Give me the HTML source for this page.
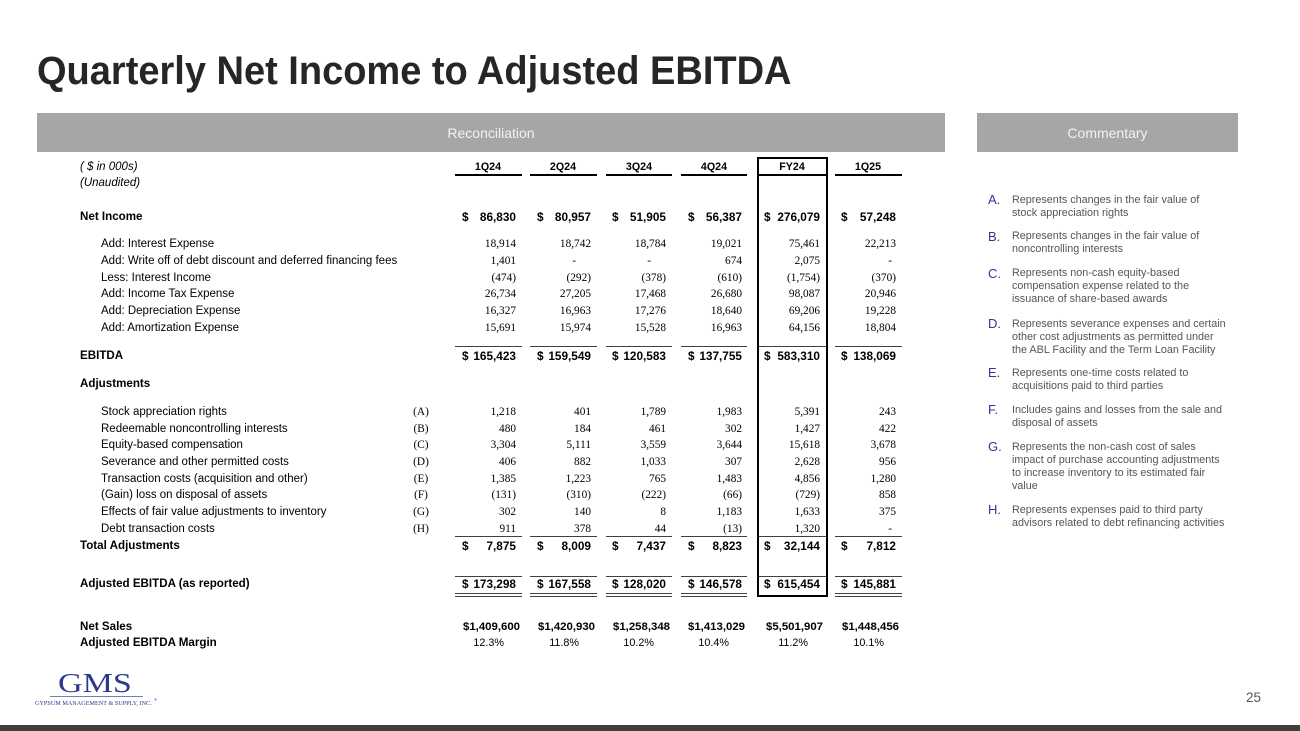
<!DOCTYPE html>
<html><head><meta charset="utf-8"><style>
*{margin:0;padding:0;box-sizing:border-box}
body{width:1300px;height:731px;background:#fff;position:relative;overflow:hidden;font-family:"Liberation Sans",sans-serif}
.a{position:absolute;white-space:nowrap;line-height:14px}
.s{font-size:11.5px;color:#000}
.b{font-size:11.6px;font-weight:bold;color:#000}
.i{font-style:italic}
.n{font-family:"Liberation Serif",serif;font-size:11.3px;text-align:right;width:80px;color:#000}
.bn{font-size:11.8px;font-weight:bold;text-align:right;width:80px;color:#000}
.d{font-size:11.8px;font-weight:bold;color:#000}
.h{font-size:10.7px;font-weight:bold;text-align:center;width:70px}
.lt{font-family:"Liberation Serif",serif;font-size:11.3px;width:30px;text-align:center}
.ln{position:absolute;background:#404040;height:1px}
.c1{left:436px}.c2{left:511px}.c3{left:586px}.c4{left:662px}.c5{left:740px}.c6{left:816px}
.d1{left:462px}.d2{left:537px}.d3{left:612px}.d4{left:688px}.d5{left:764px}.d6{left:841px}
.cm{position:absolute;font-size:10.8px;line-height:13px;color:#555;left:1012px;white-space:nowrap}
.cl{position:absolute;font-size:13px;line-height:13px;color:#2f3699;left:988px}
</style></head><body>

<div class="a" style="left:37px;top:51px;font-size:40px;line-height:40px;font-weight:bold;color:#262626;transform:scaleX(0.95);transform-origin:0 0">Quarterly Net Income to Adjusted EBITDA</div>

<div style="position:absolute;left:37px;top:113px;width:908px;height:39px;background:#a6a6a6"></div>
<div class="a" style="left:37px;width:908px;top:126px;text-align:center;font-size:14px;color:#f2f2f2">Reconciliation</div>
<div style="position:absolute;left:977px;top:113px;width:261px;height:39px;background:#a6a6a6"></div>
<div class="a" style="left:977px;width:261px;top:126px;text-align:center;font-size:14px;color:#f2f2f2">Commentary</div>

<!-- FY24 box -->
<div style="position:absolute;left:757px;top:157px;width:71px;height:440px;border:2px solid #000"></div>

<!-- header -->
<div class="a s i" style="left:80px;top:160px">( $ in 000s)</div>
<div class="a s i" style="left:80px;top:176px">(Unaudited)</div>
<div class="a h" style="left:453px;top:160px">1Q24</div>
<div class="a h" style="left:528px;top:160px">2Q24</div>
<div class="a h" style="left:604px;top:160px">3Q24</div>
<div class="a h" style="left:679px;top:160px">4Q24</div>
<div class="a h" style="left:757px;top:160px">FY24</div>
<div class="a h" style="left:833px;top:160px">1Q25</div>
<div class="ln" style="left:455px;width:67px;top:174px;height:2px;background:#000"></div>
<div class="ln" style="left:530px;width:67px;top:174px;height:2px;background:#000"></div>
<div class="ln" style="left:606px;width:66px;top:174px;height:2px;background:#000"></div>
<div class="ln" style="left:681px;width:66px;top:174px;height:2px;background:#000"></div>
<div class="ln" style="left:757px;width:71px;top:174px;height:2px;background:#000"></div>
<div class="ln" style="left:835px;width:67px;top:174px;height:2px;background:#000"></div>

<!-- Net income -->
<div class="a b" style="left:80px;top:210px">Net Income</div>
<div class="a d d1" style="top:210px">$</div><div class="a bn c1" style="top:210px">86,830</div>
<div class="a d d2" style="top:210px">$</div><div class="a bn c2" style="top:210px">80,957</div>
<div class="a d d3" style="top:210px">$</div><div class="a bn c3" style="top:210px">51,905</div>
<div class="a d d4" style="top:210px">$</div><div class="a bn c4" style="top:210px">56,387</div>
<div class="a d d5" style="top:210px">$</div><div class="a bn c5" style="top:210px">276,079</div>
<div class="a d d6" style="top:210px">$</div><div class="a bn c6" style="top:210px">57,248</div>

<div class="a s" style="left:101px;top:237px">Add: Interest Expense</div>
<div class="a n c1" style="top:237px">18,914</div><div class="a n c2" style="top:237px">18,742</div><div class="a n c3" style="top:237px">18,784</div><div class="a n c4" style="top:237px">19,021</div><div class="a n c5" style="top:237px">75,461</div><div class="a n c6" style="top:237px">22,213</div>

<div class="a s" style="left:101px;top:254px">Add: Write off of debt discount and deferred financing fees</div>
<div class="a n c1" style="top:254px">1,401</div><div class="a n" style="left:496px;top:254px">-</div><div class="a n" style="left:571px;top:254px">-</div><div class="a n c4" style="top:254px">674</div><div class="a n c5" style="top:254px">2,075</div><div class="a n" style="left:812px;top:254px">-</div>

<div class="a s" style="left:101px;top:271px">Less: Interest Income</div>
<div class="a n c1" style="top:271px">(474)</div><div class="a n c2" style="top:271px">(292)</div><div class="a n c3" style="top:271px">(378)</div><div class="a n c4" style="top:271px">(610)</div><div class="a n c5" style="top:271px">(1,754)</div><div class="a n c6" style="top:271px">(370)</div>

<div class="a s" style="left:101px;top:287px">Add: Income Tax Expense</div>
<div class="a n c1" style="top:287px">26,734</div><div class="a n c2" style="top:287px">27,205</div><div class="a n c3" style="top:287px">17,468</div><div class="a n c4" style="top:287px">26,680</div><div class="a n c5" style="top:287px">98,087</div><div class="a n c6" style="top:287px">20,946</div>

<div class="a s" style="left:101px;top:304px">Add: Depreciation Expense</div>
<div class="a n c1" style="top:304px">16,327</div><div class="a n c2" style="top:304px">16,963</div><div class="a n c3" style="top:304px">17,276</div><div class="a n c4" style="top:304px">18,640</div><div class="a n c5" style="top:304px">69,206</div><div class="a n c6" style="top:304px">19,228</div>

<div class="a s" style="left:101px;top:321px">Add: Amortization Expense</div>
<div class="a n c1" style="top:321px">15,691</div><div class="a n c2" style="top:321px">15,974</div><div class="a n c3" style="top:321px">15,528</div><div class="a n c4" style="top:321px">16,963</div><div class="a n c5" style="top:321px">64,156</div><div class="a n c6" style="top:321px">18,804</div>

<!-- EBITDA -->
<div class="ln" style="left:455px;width:67px;top:346px"></div>
<div class="ln" style="left:530px;width:67px;top:346px"></div>
<div class="ln" style="left:606px;width:66px;top:346px"></div>
<div class="ln" style="left:681px;width:66px;top:346px"></div>
<div class="ln" style="left:759px;width:67px;top:346px"></div>
<div class="ln" style="left:835px;width:67px;top:346px"></div>
<div class="a b" style="left:80px;top:349px">EBITDA</div>
<div class="a d d1" style="top:349px">$</div><div class="a bn c1" style="top:349px">165,423</div>
<div class="a d d2" style="top:349px">$</div><div class="a bn c2" style="top:349px">159,549</div>
<div class="a d d3" style="top:349px">$</div><div class="a bn c3" style="top:349px">120,583</div>
<div class="a d d4" style="top:349px">$</div><div class="a bn c4" style="top:349px">137,755</div>
<div class="a d d5" style="top:349px">$</div><div class="a bn c5" style="top:349px">583,310</div>
<div class="a d d6" style="top:349px">$</div><div class="a bn c6" style="top:349px">138,069</div>

<div class="a b" style="left:80px;top:377px">Adjustments</div>

<div class="a s" style="left:101px;top:405px">Stock appreciation rights</div><div class="a lt" style="left:406px;top:405px">(A)</div>
<div class="a n c1" style="top:405px">1,218</div><div class="a n c2" style="top:405px">401</div><div class="a n c3" style="top:405px">1,789</div><div class="a n c4" style="top:405px">1,983</div><div class="a n c5" style="top:405px">5,391</div><div class="a n c6" style="top:405px">243</div>

<div class="a s" style="left:101px;top:422px">Redeemable noncontrolling interests</div><div class="a lt" style="left:406px;top:422px">(B)</div>
<div class="a n c1" style="top:422px">480</div><div class="a n c2" style="top:422px">184</div><div class="a n c3" style="top:422px">461</div><div class="a n c4" style="top:422px">302</div><div class="a n c5" style="top:422px">1,427</div><div class="a n c6" style="top:422px">422</div>

<div class="a s" style="left:101px;top:438px">Equity-based compensation</div><div class="a lt" style="left:406px;top:438px">(C)</div>
<div class="a n c1" style="top:438px">3,304</div><div class="a n c2" style="top:438px">5,111</div><div class="a n c3" style="top:438px">3,559</div><div class="a n c4" style="top:438px">3,644</div><div class="a n c5" style="top:438px">15,618</div><div class="a n c6" style="top:438px">3,678</div>

<div class="a s" style="left:101px;top:455px">Severance and other permitted costs</div><div class="a lt" style="left:406px;top:455px">(D)</div>
<div class="a n c1" style="top:455px">406</div><div class="a n c2" style="top:455px">882</div><div class="a n c3" style="top:455px">1,033</div><div class="a n c4" style="top:455px">307</div><div class="a n c5" style="top:455px">2,628</div><div class="a n c6" style="top:455px">956</div>

<div class="a s" style="left:101px;top:472px">Transaction costs (acquisition and other)</div><div class="a lt" style="left:406px;top:472px">(E)</div>
<div class="a n c1" style="top:472px">1,385</div><div class="a n c2" style="top:472px">1,223</div><div class="a n c3" style="top:472px">765</div><div class="a n c4" style="top:472px">1,483</div><div class="a n c5" style="top:472px">4,856</div><div class="a n c6" style="top:472px">1,280</div>

<div class="a s" style="left:101px;top:488px">(Gain) loss on disposal of assets</div><div class="a lt" style="left:406px;top:488px">(F)</div>
<div class="a n c1" style="top:488px">(131)</div><div class="a n c2" style="top:488px">(310)</div><div class="a n c3" style="top:488px">(222)</div><div class="a n c4" style="top:488px">(66)</div><div class="a n c5" style="top:488px">(729)</div><div class="a n c6" style="top:488px">858</div>

<div class="a s" style="left:101px;top:505px">Effects of fair value adjustments to inventory</div><div class="a lt" style="left:406px;top:505px">(G)</div>
<div class="a n c1" style="top:505px">302</div><div class="a n c2" style="top:505px">140</div><div class="a n c3" style="top:505px">8</div><div class="a n c4" style="top:505px">1,183</div><div class="a n c5" style="top:505px">1,633</div><div class="a n c6" style="top:505px">375</div>

<div class="a s" style="left:101px;top:522px">Debt transaction costs</div><div class="a lt" style="left:406px;top:522px">(H)</div>
<div class="a n c1" style="top:522px">911</div><div class="a n c2" style="top:522px">378</div><div class="a n c3" style="top:522px">44</div><div class="a n c4" style="top:522px">(13)</div><div class="a n c5" style="top:522px">1,320</div><div class="a n" style="left:812px;top:522px">-</div>

<!-- Total adjustments -->
<div class="ln" style="left:455px;width:67px;top:536px"></div>
<div class="ln" style="left:530px;width:67px;top:536px"></div>
<div class="ln" style="left:606px;width:66px;top:536px"></div>
<div class="ln" style="left:681px;width:66px;top:536px"></div>
<div class="ln" style="left:759px;width:67px;top:536px"></div>
<div class="ln" style="left:835px;width:67px;top:536px"></div>
<div class="a b" style="left:80px;top:539px">Total Adjustments</div>
<div class="a d d1" style="top:539px">$</div><div class="a bn c1" style="top:539px">7,875</div>
<div class="a d d2" style="top:539px">$</div><div class="a bn c2" style="top:539px">8,009</div>
<div class="a d d3" style="top:539px">$</div><div class="a bn c3" style="top:539px">7,437</div>
<div class="a d d4" style="top:539px">$</div><div class="a bn c4" style="top:539px">8,823</div>
<div class="a d d5" style="top:539px">$</div><div class="a bn c5" style="top:539px">32,144</div>
<div class="a d d6" style="top:539px">$</div><div class="a bn c6" style="top:539px">7,812</div>

<!-- Adjusted EBITDA -->
<div class="ln" style="left:455px;width:67px;top:576px"></div>
<div class="ln" style="left:530px;width:67px;top:576px"></div>
<div class="ln" style="left:606px;width:66px;top:576px"></div>
<div class="ln" style="left:681px;width:66px;top:576px"></div>
<div class="ln" style="left:759px;width:67px;top:576px"></div>
<div class="ln" style="left:835px;width:67px;top:576px"></div>
<div class="a b" style="left:80px;top:577px">Adjusted EBITDA (as reported)</div>
<div class="a d d1" style="top:577px">$</div><div class="a bn c1" style="top:577px">173,298</div>
<div class="a d d2" style="top:577px">$</div><div class="a bn c2" style="top:577px">167,558</div>
<div class="a d d3" style="top:577px">$</div><div class="a bn c3" style="top:577px">128,020</div>
<div class="a d d4" style="top:577px">$</div><div class="a bn c4" style="top:577px">146,578</div>
<div class="a d d5" style="top:577px">$</div><div class="a bn c5" style="top:577px">615,454</div>
<div class="a d d6" style="top:577px">$</div><div class="a bn c6" style="top:577px">145,881</div>
<div class="ln" style="left:455px;width:67px;top:593px"></div><div class="ln" style="left:455px;width:67px;top:596px"></div>
<div class="ln" style="left:530px;width:67px;top:593px"></div><div class="ln" style="left:530px;width:67px;top:596px"></div>
<div class="ln" style="left:606px;width:66px;top:593px"></div><div class="ln" style="left:606px;width:66px;top:596px"></div>
<div class="ln" style="left:681px;width:66px;top:593px"></div><div class="ln" style="left:681px;width:66px;top:596px"></div>
<div class="ln" style="left:835px;width:67px;top:593px"></div><div class="ln" style="left:835px;width:67px;top:596px"></div>

<!-- Net sales / margin -->
<div class="a b" style="left:80px;top:620px">Net Sales</div>
<div class="a bn" style="left:420px;width:100px;top:620px;font-size:11.4px">$1,409,600</div>
<div class="a bn" style="left:495px;width:100px;top:620px;font-size:11.4px">$1,420,930</div>
<div class="a bn" style="left:570px;width:100px;top:620px;font-size:11.4px">$1,258,348</div>
<div class="a bn" style="left:645px;width:100px;top:620px;font-size:11.4px">$1,413,029</div>
<div class="a bn" style="left:723px;width:100px;top:620px;font-size:11.4px">$5,501,907</div>
<div class="a bn" style="left:799px;width:100px;top:620px;font-size:11.4px">$1,448,456</div>
<div class="a b" style="left:80px;top:636px">Adjusted EBITDA Margin</div>
<div class="a s" style="left:424px;width:80px;text-align:right;top:636px;font-size:10.8px">12.3%</div>
<div class="a s" style="left:499px;width:80px;text-align:right;top:636px;font-size:10.8px">11.8%</div>
<div class="a s" style="left:574px;width:80px;text-align:right;top:636px;font-size:10.8px">10.2%</div>
<div class="a s" style="left:649px;width:80px;text-align:right;top:636px;font-size:10.8px">10.4%</div>
<div class="a s" style="left:728px;width:80px;text-align:right;top:636px;font-size:10.8px">11.2%</div>
<div class="a s" style="left:804px;width:80px;text-align:right;top:636px;font-size:10.8px">10.1%</div>

<!-- Commentary -->
<div class="cl" style="top:193px">A.</div>
<div class="cm" style="top:193.6px">Represents changes in the fair value of<br>stock appreciation rights</div>
<div class="cl" style="top:230px">B.</div>
<div class="cm" style="top:230.3px">Represents changes in the fair value of<br>noncontrolling interests</div>
<div class="cl" style="top:267px">C.</div>
<div class="cm" style="top:267px">Represents non-cash equity-based<br>compensation expense related to the<br>issuance of share-based awards</div>
<div class="cl" style="top:317px">D.</div>
<div class="cm" style="top:317.6px">Represents severance expenses and certain<br>other cost adjustments as permitted under<br>the ABL Facility and the Term Loan Facility</div>
<div class="cl" style="top:366px">E.</div>
<div class="cm" style="top:366.6px">Represents one-time costs related to<br>acquisitions paid to third parties</div>
<div class="cl" style="top:403px">F.</div>
<div class="cm" style="top:403.6px">Includes gains and losses from the sale and<br>disposal of assets</div>
<div class="cl" style="top:440px">G.</div>
<div class="cm" style="top:440.6px">Represents the non-cash cost of sales<br>impact of purchase accounting adjustments<br>to increase inventory to its estimated fair<br>value</div>
<div class="cl" style="top:503px">H.</div>
<div class="cm" style="top:503.6px">Represents expenses paid to third party<br>advisors related to debt refinancing activities</div>

<!-- Logo -->
<div class="a" style="left:58px;top:670px;font-family:'Liberation Serif',serif;font-size:27px;line-height:27px;color:#2b3a8c;transform:scaleX(1.26);transform-origin:0 0">GMS</div>
<div style="position:absolute;left:50px;top:696px;width:93px;height:1px;background:#7880b0"></div>
<div class="a" style="left:35px;top:700px;font-family:'Liberation Serif',serif;font-size:6.2px;line-height:7px;color:#2b3a8c">GYPSUM MANAGEMENT &amp; SUPPLY, INC.</div>
<div class="a" style="left:154px;top:697px;font-family:'Liberation Serif',serif;font-size:4px;line-height:5px;color:#2b3a8c">®</div>

<div class="a" style="left:1246px;top:691px;font-size:13.5px;color:#595959">25</div>
<div style="position:absolute;left:0;top:725px;width:1300px;height:6px;background:#3f3f3f"></div>
</body></html>
